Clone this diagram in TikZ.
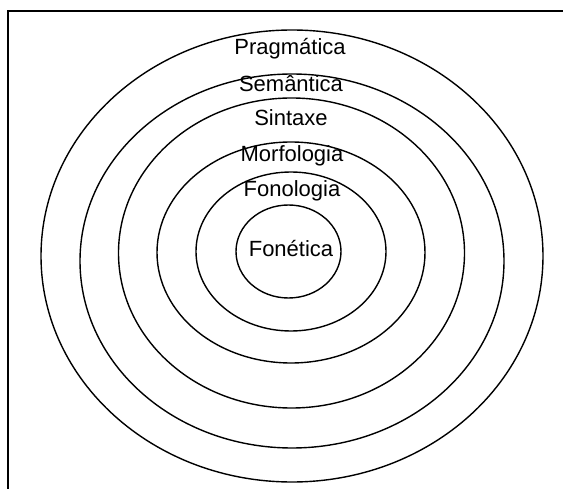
\documentclass[tikz,border=0pt]{standalone}
\usepackage{fontspec}
\setmainfont{Liberation Sans}
\begin{document}
\begin{tikzpicture}[x=1pt,y=-1pt,
    ringP/.style={line width=1.4pt},
    frameP/.style={line width=2pt},
    levelP/.style={anchor=base,inner sep=0pt,font=\fontsize{22}{26}\selectfont},
]
\useasboundingbox (0,0) rectangle (563,489);
% Frame (only top and left edges visible)
\draw[frameP] (7.5,489) -- (7.5,11.5) -- (563,11.5);
% Rings, outer to inner
\draw[ringP] (292,256) ellipse [x radius=251, y radius=226];
\draw[ringP] (292,261) ellipse [x radius=212, y radius=187];
\draw[ringP] (291.5,253) ellipse [x radius=173, y radius=155];
\draw[ringP] (291,252.5) ellipse [x radius=134, y radius=110.5];
\draw[ringP] (291,251.5) ellipse [x radius=95, y radius=79.5];
\draw[ringP] (288.5,251.5) ellipse [x radius=52.5, y radius=46.5];
% Labels
\node[levelP] (prag) at (290,55) {Pragmática};
\node[levelP] (sem) at (291,92) {Semântica};
\node[levelP] (sint) at (291,126) {Sintaxe};
\node[levelP] (morf) at (292,162) {Morfologia};
\node[levelP] (fonol) at (292,197) {Fonologia};
\node[levelP] (fonet) at (291,257) {Fonética};
\end{tikzpicture}
\end{document}
